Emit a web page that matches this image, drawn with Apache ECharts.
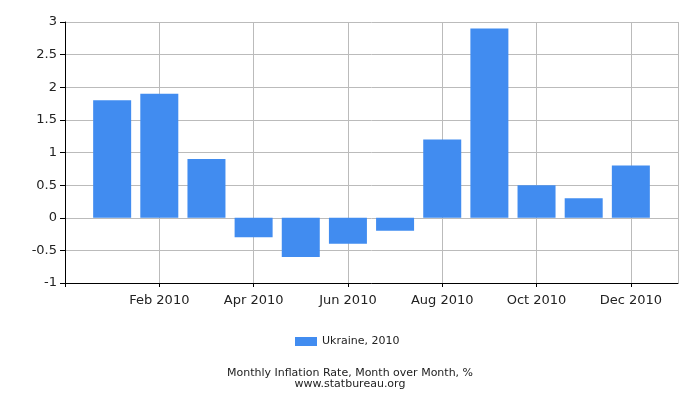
<!DOCTYPE html>
<html>
<head>
<meta charset="utf-8">
<script src="https://cdn.jsdelivr.net/npm/echarts@6/dist/echarts.min.js"></script>
<style>html,body{margin:0;padding:0;background:#fff}#c{width:700px;height:400px}</style>
</head>
<body>
<div id="c"></div>
<script>
var categories = ['', 'Jan 2010', 'Feb 2010', 'Mar 2010', 'Apr 2010', 'May 2010', 'Jun 2010', 'Jul 2010', 'Aug 2010', 'Sep 2010', 'Oct 2010', 'Nov 2010', 'Dec 2010', ''];
var values = [null, 1.8, 1.9, 0.9, -0.3, -0.6, -0.4, -0.2, 1.2, 2.9, 0.5, 0.3, 0.8, null];
var seriesName = 'Ukraine, 2010';
var titleText = 'Monthly Inflation Rate, Month over Month, %';
var subText = 'www.statbureau.org';

var chart = echarts.init(document.getElementById('c'));
var font = 'DejaVu Sans';
chart.setOption({
  animation: false,
  textStyle: { fontFamily: font },
  title: {
    text: titleText, subtext: subText, left: 'center', top: 363, itemGap: 0,
    textStyle: { fontFamily: font, fontSize: 11, fontWeight: 'normal', color: '#222' },
    subtextStyle: { fontFamily: font, fontSize: 11, color: '#222' }
  },
  legend: {
    data: [seriesName], top: 336, left: 295, padding: 0, icon: 'rect', itemWidth: 22, itemHeight: 9, itemGap: 5,
    textStyle: { fontFamily: font, fontSize: 11, color: '#222' }
  },
  grid: { left: 65, right: 22, top: 22, bottom: 117 },
  xAxis: {
    type: 'category', data: categories, boundaryGap: false,
    axisLine: { onZero: false, lineStyle: { color: '#000' } },
    axisTick: { length: 4, lineStyle: { color: '#000' }, interval: function (i) { return i % 2 === 0 && i < 13; } },
    axisLabel: { fontFamily: font, fontSize: 13, color: '#222', margin: 11, interval: function (i) { return i % 2 === 0 && i > 0 && i < 13; } },
    splitLine: { show: true, lineStyle: { color: '#bbb' }, interval: function (i) { return (i % 2 === 0 && i > 0) || i === 13; } }
  },
  yAxis: {
    type: 'value', min: -1, max: 3, interval: 0.5,
    axisLine: { show: true, lineStyle: { color: '#000' } },
    axisTick: { show: true, length: 5, lineStyle: { color: '#000' } },
    axisLabel: { fontFamily: font, fontSize: 13, color: '#222', margin: 8 },
    splitLine: { show: true, lineStyle: { color: '#bbb' } }
  },
  series: [{
    name: seriesName, type: 'bar', data: values, barWidth: 38,
    itemStyle: { color: '#418CF0' }
  }]
});
</script>
</body>
</html>
